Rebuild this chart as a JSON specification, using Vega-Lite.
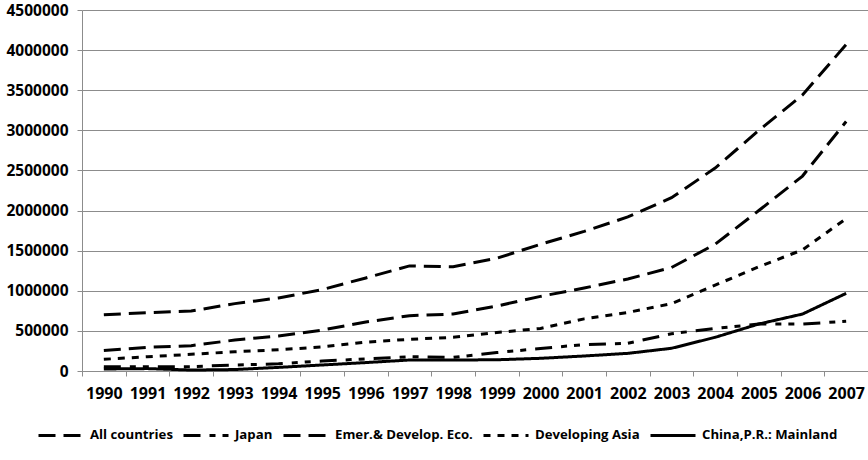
{
  "$schema": "https://vega.github.io/schema/vega-lite/v6.json",
  "width": 786,
  "height": 361,
  "padding": {"left": 5, "top": 3, "right": 0, "bottom": 0},
  "background": "white",
  "config": {"view": {"stroke": null}, "font": "Open Sans"},
  "datasets": {
    "d": [
      {"year": "1990", "series": "All countries", "value": 700000},
      {"year": "1991", "series": "All countries", "value": 727000},
      {"year": "1992", "series": "All countries", "value": 748000},
      {"year": "1993", "series": "All countries", "value": 840000},
      {"year": "1994", "series": "All countries", "value": 910000},
      {"year": "1995", "series": "All countries", "value": 1015000},
      {"year": "1996", "series": "All countries", "value": 1160000},
      {"year": "1997", "series": "All countries", "value": 1310000},
      {"year": "1998", "series": "All countries", "value": 1300000},
      {"year": "1999", "series": "All countries", "value": 1405000},
      {"year": "2000", "series": "All countries", "value": 1580000},
      {"year": "2001", "series": "All countries", "value": 1740000},
      {"year": "2002", "series": "All countries", "value": 1920000},
      {"year": "2003", "series": "All countries", "value": 2160000},
      {"year": "2004", "series": "All countries", "value": 2530000},
      {"year": "2005", "series": "All countries", "value": 3000000},
      {"year": "2006", "series": "All countries", "value": 3440000},
      {"year": "2007", "series": "All countries", "value": 4070000},
      {"year": "1990", "series": "Japan", "value": 54000},
      {"year": "1991", "series": "Japan", "value": 54000},
      {"year": "1992", "series": "Japan", "value": 54000},
      {"year": "1993", "series": "Japan", "value": 75000},
      {"year": "1994", "series": "Japan", "value": 90000},
      {"year": "1995", "series": "Japan", "value": 125000},
      {"year": "1996", "series": "Japan", "value": 150000},
      {"year": "1997", "series": "Japan", "value": 178000},
      {"year": "1998", "series": "Japan", "value": 170000},
      {"year": "1999", "series": "Japan", "value": 230000},
      {"year": "2000", "series": "Japan", "value": 280000},
      {"year": "2001", "series": "Japan", "value": 330000},
      {"year": "2002", "series": "Japan", "value": 345000},
      {"year": "2003", "series": "Japan", "value": 465000},
      {"year": "2004", "series": "Japan", "value": 530000},
      {"year": "2005", "series": "Japan", "value": 585000},
      {"year": "2006", "series": "Japan", "value": 585000},
      {"year": "2007", "series": "Japan", "value": 620000},
      {"year": "1990", "series": "Emer.& Develop. Eco.", "value": 255000},
      {"year": "1991", "series": "Emer.& Develop. Eco.", "value": 295000},
      {"year": "1992", "series": "Emer.& Develop. Eco.", "value": 316000},
      {"year": "1993", "series": "Emer.& Develop. Eco.", "value": 386000},
      {"year": "1994", "series": "Emer.& Develop. Eco.", "value": 436000},
      {"year": "1995", "series": "Emer.& Develop. Eco.", "value": 510000},
      {"year": "1996", "series": "Emer.& Develop. Eco.", "value": 610000},
      {"year": "1997", "series": "Emer.& Develop. Eco.", "value": 690000},
      {"year": "1998", "series": "Emer.& Develop. Eco.", "value": 710000},
      {"year": "1999", "series": "Emer.& Develop. Eco.", "value": 810000},
      {"year": "2000", "series": "Emer.& Develop. Eco.", "value": 930000},
      {"year": "2001", "series": "Emer.& Develop. Eco.", "value": 1035000},
      {"year": "2002", "series": "Emer.& Develop. Eco.", "value": 1147000},
      {"year": "2003", "series": "Emer.& Develop. Eco.", "value": 1290000},
      {"year": "2004", "series": "Emer.& Develop. Eco.", "value": 1580000},
      {"year": "2005", "series": "Emer.& Develop. Eco.", "value": 2000000},
      {"year": "2006", "series": "Emer.& Develop. Eco.", "value": 2430000},
      {"year": "2007", "series": "Emer.& Develop. Eco.", "value": 3110000},
      {"year": "1990", "series": "Developing Asia", "value": 146000},
      {"year": "1991", "series": "Developing Asia", "value": 178000},
      {"year": "1992", "series": "Developing Asia", "value": 208000},
      {"year": "1993", "series": "Developing Asia", "value": 240000},
      {"year": "1994", "series": "Developing Asia", "value": 265000},
      {"year": "1995", "series": "Developing Asia", "value": 300000},
      {"year": "1996", "series": "Developing Asia", "value": 360000},
      {"year": "1997", "series": "Developing Asia", "value": 395000},
      {"year": "1998", "series": "Developing Asia", "value": 420000},
      {"year": "1999", "series": "Developing Asia", "value": 480000},
      {"year": "2000", "series": "Developing Asia", "value": 530000},
      {"year": "2001", "series": "Developing Asia", "value": 650000},
      {"year": "2002", "series": "Developing Asia", "value": 730000},
      {"year": "2003", "series": "Developing Asia", "value": 840000},
      {"year": "2004", "series": "Developing Asia", "value": 1070000},
      {"year": "2005", "series": "Developing Asia", "value": 1300000},
      {"year": "2006", "series": "Developing Asia", "value": 1510000},
      {"year": "2007", "series": "Developing Asia", "value": 1900000},
      {"year": "1990", "series": "China,P.R.: Mainland", "value": 25000},
      {"year": "1991", "series": "China,P.R.: Mainland", "value": 30000},
      {"year": "1992", "series": "China,P.R.: Mainland", "value": 12000},
      {"year": "1993", "series": "China,P.R.: Mainland", "value": 18000},
      {"year": "1994", "series": "China,P.R.: Mainland", "value": 45000},
      {"year": "1995", "series": "China,P.R.: Mainland", "value": 75000},
      {"year": "1996", "series": "China,P.R.: Mainland", "value": 105000},
      {"year": "1997", "series": "China,P.R.: Mainland", "value": 137000},
      {"year": "1998", "series": "China,P.R.: Mainland", "value": 137000},
      {"year": "1999", "series": "China,P.R.: Mainland", "value": 140000},
      {"year": "2000", "series": "China,P.R.: Mainland", "value": 158000},
      {"year": "2001", "series": "China,P.R.: Mainland", "value": 187000},
      {"year": "2002", "series": "China,P.R.: Mainland", "value": 220000},
      {"year": "2003", "series": "China,P.R.: Mainland", "value": 283000},
      {"year": "2004", "series": "China,P.R.: Mainland", "value": 420000},
      {"year": "2005", "series": "China,P.R.: Mainland", "value": 586000},
      {"year": "2006", "series": "China,P.R.: Mainland", "value": 710000},
      {"year": "2007", "series": "China,P.R.: Mainland", "value": 968000}
    ]
  },
  "data": {"name": "d"},
  "mark": {"type": "line", "strokeWidth": 3, "color": "black", "strokeCap": "butt"},
  "encoding": {
    "x": {
      "field": "year",
      "type": "ordinal",
      "bandPosition": 0.5,
      "scale": {"type": "band", "paddingInner": 0, "paddingOuter": 0},
      "axis": {
        "title": null,
        "labelAngle": 0,
        "tickBand": "extent",
        "grid": false,
        "domainColor": "#8c8c8c",
        "tickColor": "#8c8c8c",
        "tickSize": 5,
        "labelPadding": 9,
        "labelFont": "Open Sans",
        "labelFontWeight": "bold",
        "labelFontSize": 16,
        "labelColor": "black"
      }
    },
    "y": {
      "field": "value",
      "type": "quantitative",
      "scale": {"domain": [0, 4500000], "nice": false},
      "axis": {
        "title": null,
        "values": [0, 500000, 1000000, 1500000, 2000000, 2500000, 3000000, 3500000, 4000000, 4500000],
        "format": "d",
        "gridColor": "#8c8c8c",
        "gridWidth": 1,
        "domainColor": "#8c8c8c",
        "tickColor": "#8c8c8c",
        "tickSize": 5,
        "labelPadding": 9,
        "labelFont": "Open Sans",
        "labelFontWeight": "bold",
        "labelFontSize": 15.5,
        "labelColor": "black"
      }
    },
    "strokeDash": {
      "field": "series",
      "type": "nominal",
      "scale": {
        "domain": ["All countries", "Japan", "Emer.& Develop. Eco.", "Developing Asia", "China,P.R.: Mainland"],
        "range": [[17, 8], [17, 9, 6, 7, 6, 9], [17, 8], [7, 7], [1, 0]]
      },
      "legend": {
        "title": null,
        "orient": "none",
        "legendX": -45,
        "legendY": 401,
        "direction": "horizontal",
        "symbolType": "stroke",
        "symbolSize": 2025,
        "symbolStrokeWidth": 3,
        "symbolStrokeColor": "black",
        "labelFont": "Open Sans",
        "labelFontWeight": "bold",
        "labelFontSize": 13.2,
        "labelColor": "black",
        "labelLimit": 300,
        "columnPadding": 4,
        "labelOffset": 5
      }
    }
  }
}
